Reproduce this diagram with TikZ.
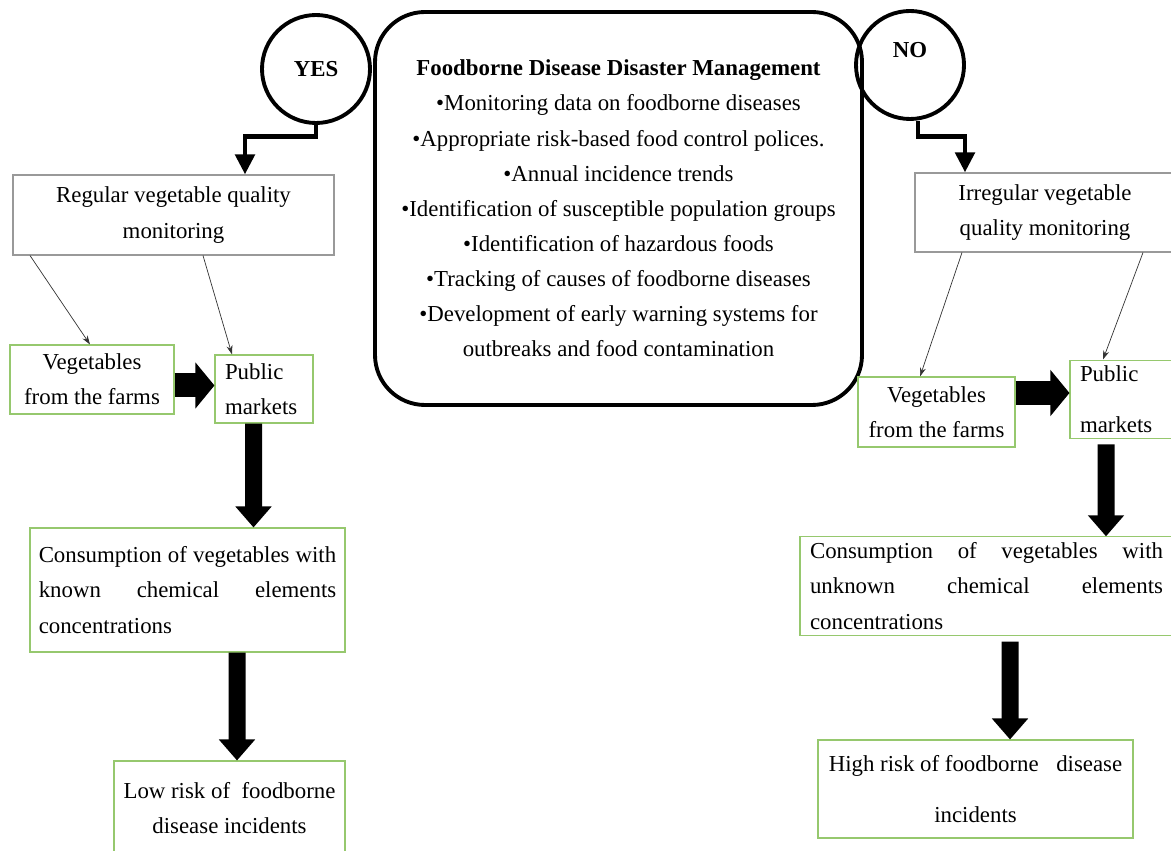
\documentclass[tikz,border=0pt]{standalone}
\usepackage{fontspec}
\setmainfont{Liberation Serif}
\usetikzlibrary{positioning, arrows.meta}
\definecolor{boxgreen}{RGB}{150,200,110}

\begin{document}
\begin{tikzpicture}[
    every node/.style={font=\fontsize{13pt}{20pt}\selectfont},
    decision/.style={circle, draw, line width=2.2pt, minimum size=2.16cm, inner sep=0pt, font=\fontsize{13pt}{20pt}\selectfont\bfseries},
    panel/.style={draw, line width=2.2pt, rounded corners=1cm, minimum width=9.74cm, minimum height=7.86cm, align=center},
    plainbox/.style={draw=gray!80, line width=0.6pt, align=center},
    greenbox/.style={draw=boxgreen, line width=0.6pt, align=center},
    elbow/.style={line width=2.8pt, -{Triangle[width=0.38cm, length=0.4cm]}},
    pointer/.style={line width=0.4pt, black!80, -{Stealth[length=1.8mm, width=1.2mm]}},
    bigarrow/.style={line width=0.34cm, -{Triangle[width=0.7cm, length=0.42cm]}},
    sidearrow/.style={line width=0.48cm, -{Triangle[width=0.9cm, length=0.38cm]}}
]
\useasboundingbox (0,0) rectangle (23.42,17);

% Decision circles and management panel
\node[decision] (yes) at (6.32,15.62) {YES};
\node[decision, text depth=0.6cm] (no) at (18.2,15.7) {NO};

\node[panel] (mgmt) at (12.37,12.83) {\textbf{Foodborne Disease Disaster Management}\\
  •Monitoring data on foodborne diseases\\
  •Appropriate risk-based food control polices.\\
  •Annual incidence trends\\
  •Identification of susceptible population groups\\
  •Identification of hazardous foods\\
  •Tracking of causes of foodborne diseases\\
  •Development of early warning systems for\\
  outbreaks and food contamination};

% YES branch
\node[plainbox, minimum width=6.42cm, minimum height=1.6cm] (reg) at (3.47,12.7) {Regular vegetable quality\\monitoring};
\node[greenbox, minimum width=3.28cm, minimum height=1.38cm] (veg) at (1.84,9.41) {Vegetables\\from the farms};
\node[greenbox, text width=1.56cm, align=left, inner xsep=0.2cm, minimum height=1.36cm] (pub) at (5.28,9.22) {Public\\markets};
\node[greenbox, text width=5.95cm, align=justify, inner xsep=0.175cm, minimum height=2.48cm] (cons) at (3.75,5.2) {Consumption of vegetables with\linebreak known chemical elements\linebreak concentrations};
\node[greenbox, minimum width=4.62cm, minimum height=1.88cm] (low) at (4.59,0.84) {Low risk of~ foodborne\\disease incidents};

% NO branch
\node[plainbox, minimum width=5.2cm, minimum height=1.58cm] (irr) at (20.9,12.75) {Irregular vegetable\\quality monitoring};
\node[greenbox, minimum width=3.14cm, minimum height=1.4cm] (vegr) at (18.73,8.76) {Vegetables\\from the farms};
\node[greenbox, text width=2cm, align=left, inner xsep=0.2cm, minimum height=1.5cm] (pubr) at (22.6,9.01) {Public\\[0.32cm]markets};
\node[greenbox, text width=7.06cm, align=justify, inner xsep=0.2cm, minimum height=1.96cm] (consr) at (19.73,5.28) {Consumption of vegetables with\linebreak unknown chemical elements\linebreak concentrations};
\node[greenbox, minimum width=6.3cm, minimum height=1.96cm] (high) at (19.51,1.22) {High risk of foodborne\hspace{0.35cm}disease\\[0.3cm]incidents};

% YES connectors
\draw[elbow] (yes.south) -- ++(0,-0.24) -| ([xshift=1.43cm]reg.north);
\draw[pointer] ([xshift=-2.87cm]reg.south) -- ([xshift=-0.04cm]veg.north);
\draw[pointer] ([xshift=0.59cm]reg.south) -- ([xshift=-0.64cm]pub.north);
\coordinate (fl) at ([yshift=-0.12cm]veg.east);
\draw[sidearrow] (fl) -- (fl -| pub.west);
\draw[bigarrow] ([xshift=-0.21cm]pub.south) -- ([xshift=1.32cm]cons.north);
\draw[bigarrow] ([xshift=0.99cm]cons.south) -- ([xshift=0.15cm]low.north);

% NO connectors
\draw[elbow] ([xshift=0.16cm]no.south) -- ++(0,-0.32) -| ([xshift=-1.6cm]irr.north);
\draw[pointer] ([xshift=-1.66cm]irr.south) -- ([xshift=-0.33cm]vegr.north);
\draw[pointer] ([xshift=1.96cm]irr.south) -- ([xshift=-0.54cm]pubr.north);
\coordinate (fr) at ([yshift=0.38cm]vegr.east);
\draw[sidearrow] (fr) -- (fr -| pubr.west);
\draw[bigarrow, shorten <=0.1cm] ([xshift=-0.48cm]pubr.south) -- ([xshift=2.39cm]consr.north);
\draw[bigarrow, shorten <=0.12cm] ([xshift=0.47cm]consr.south) -- ([xshift=0.69cm]high.north);

\end{tikzpicture}
\end{document}
